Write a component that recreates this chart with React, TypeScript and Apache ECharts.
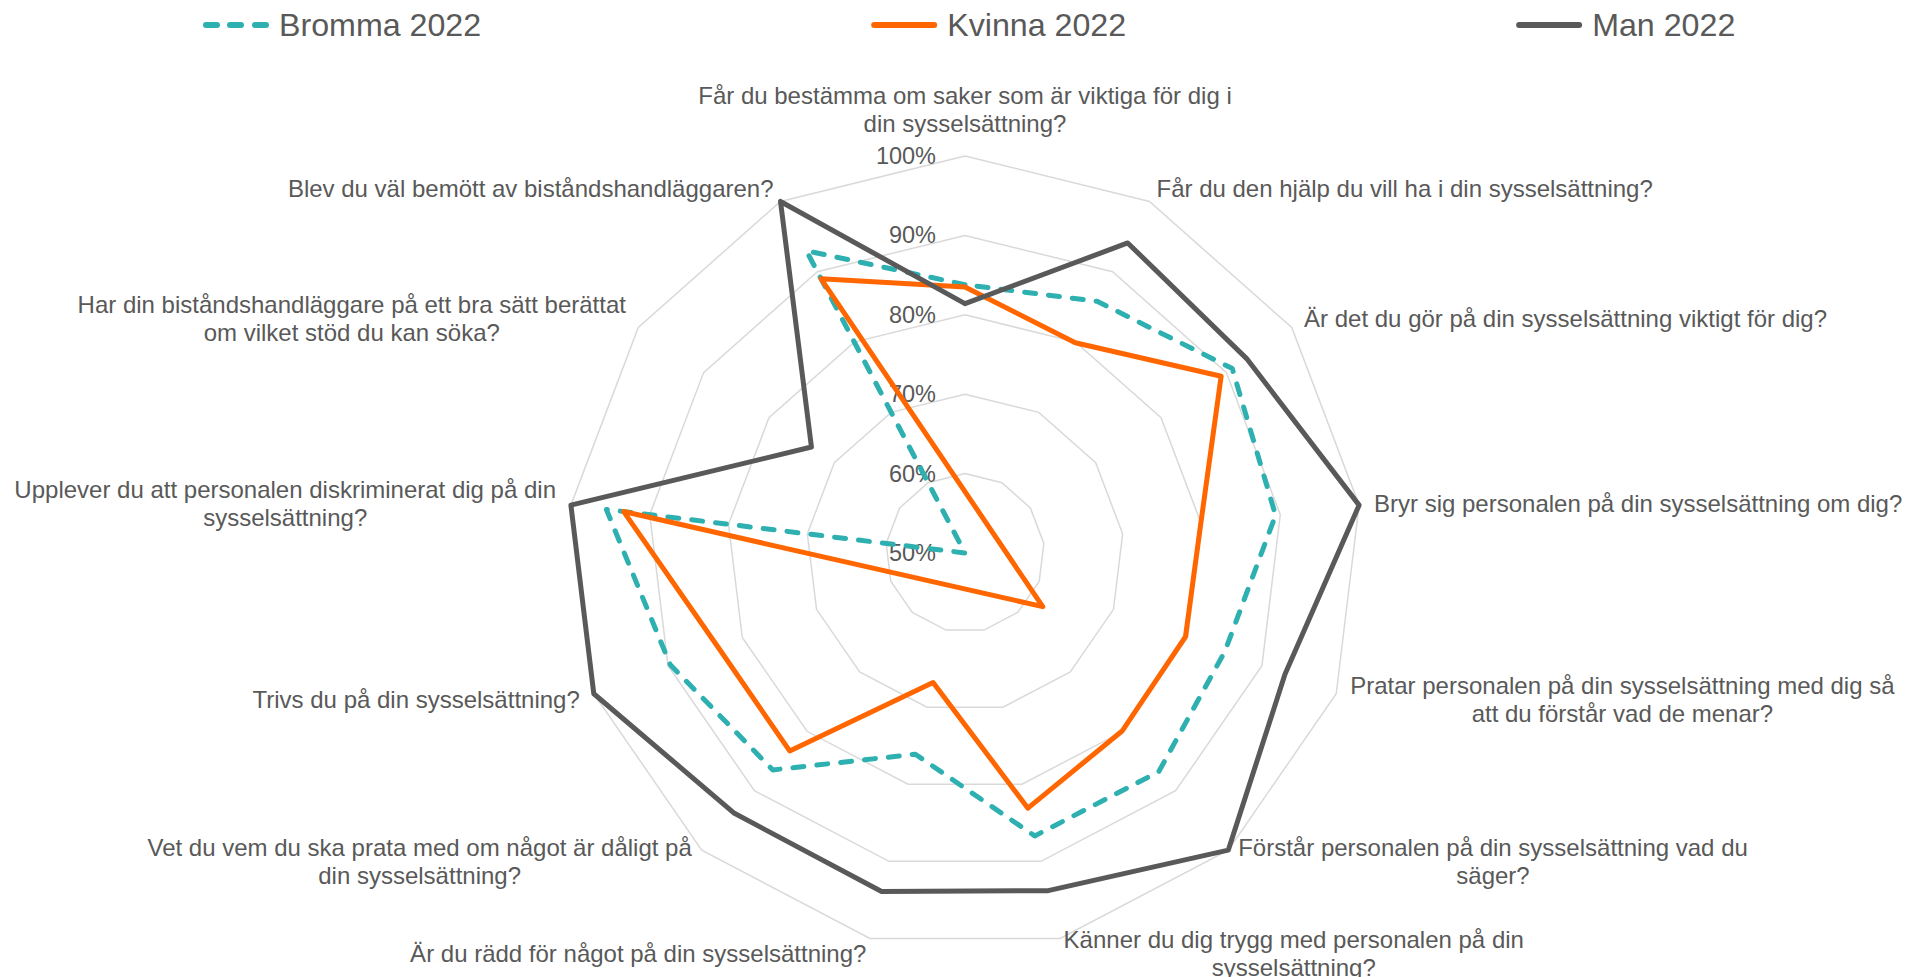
import React, { useEffect, useRef } from "react";
import * as echarts from "echarts";

// Questions in clockwise order starting at the top
const categories: string[] = [
  "Får du bestämma om saker som är viktiga för dig i\ndin sysselsättning?",
  "Får du den hjälp du vill ha i din sysselsättning?",
  "Är det du gör på din sysselsättning viktigt för dig?",
  "Bryr sig personalen på din sysselsättning om dig?",
  "Pratar personalen på din sysselsättning med dig så\natt du förstår vad de menar?",
  "Förstår personalen på din sysselsättning vad du\nsäger?",
  "Känner du dig trygg med personalen på din\nsysselsättning?",
  "Är du rädd för något på din sysselsättning?",
  "Vet du vem du ska prata med om något är dåligt på\ndin sysselsättning?",
  "Trivs du på din sysselsättning?",
  "Upplever du att personalen diskriminerat dig på din\nsysselsättning?",
  "Har din biståndshandläggare på ett bra sätt berättat\nom vilket stöd du kan söka?",
  "Blev du väl bemött av biståndshandläggaren?",
];

const seriesNames: string[] = ["Bromma 2022", "Kvinna 2022", "Man 2022"];

const bromma: number[] = [83.8, 85.8, 90.9, 89.4, 85.0, 86.8, 86.7, 76.1, 86.5, 89.7, 95.5, 50.0, 93.0];
const kvinna: number[] = [83.5, 79.9, 89.2, 79.9, 79.7, 79.9, 83.1, 66.8, 83.3, 83.3, 93.3, 38.1, 89.0];
const man: number[] = [81.4, 94.1, 93.1, 100, 93.1, 100, 93.8, 93.9, 93.8, 100, 100, 73.5, 100];

const axisMin = 50;
const axisMax = 100;
const axisSplits = 5;

const TEXT = "#595959";
const FONT = "'Liberation Sans', Arial, sans-serif";

export default function App() {
  const ref = useRef<HTMLDivElement>(null);

  useEffect(() => {
    if (!ref.current) return;
    const chart = echarts.init(ref.current, undefined, { renderer: "svg" });

    // ECharts radar runs counter-clockwise: reorder so the picture reads clockwise
    const order = [0, ...Array.from({ length: categories.length - 1 }, (_, i) => categories.length - 1 - i)];
    const reorder = (arr: number[]) => order.map((i) => arr[i]);

    const indicator = order.map((i, k) => ({
      name: categories[i],
      min: axisMin,
      max: axisMax,
      ...(k === 0 ? { axisLabel: { show: true }, nameGap: 19 } : {}),
    }));

    const lineIcon = "path://M3,0h60a3,3 0 0 1 0,6h-60a3,3 0 0 1 0,-6z";
    const dashIcon =
      "path://M3,0h11a3,3 0 0 1 0,6h-11a3,3 0 0 1 0,-6z M27,0h11a3,3 0 0 1 0,6h-11a3,3 0 0 1 0,-6z M52,0h11a3,3 0 0 1 0,6h-11a3,3 0 0 1 0,-6z";

    const colors = ["#2EB0B0", "#FF6600", "#595959"];
    const values = [bromma, kvinna, man];

    chart.setOption({
      animation: false,
      backgroundColor: "#ffffff",
      legend: {
        left: 203,
        top: 9,
        padding: 0,
        itemGap: 390,
        itemWidth: 66,
        itemHeight: 6,
        textStyle: { color: TEXT, fontSize: 32.2, fontFamily: FONT, padding: [0, 0, 0, 5] },
        data: [
          { name: seriesNames[0], icon: dashIcon, itemStyle: { color: colors[0] } },
          { name: seriesNames[1], icon: lineIcon, itemStyle: { color: colors[1] } },
          { name: seriesNames[2], icon: lineIcon, itemStyle: { color: colors[2] } },
        ],
        selectedMode: false,
      },
      radar: {
        center: [965, 553],
        radius: 397,
        startAngle: 90,
        splitNumber: axisSplits,
        shape: "polygon",
        nameGap: 15,
        axisName: {
          color: TEXT,
          fontSize: 24,
          fontFamily: FONT,
          formatter: (name: string) =>
            name
              .split("\n")
              .map((l) => `{c|${l}}`)
              .join("\n"),
          rich: {
            c: { align: "center", color: TEXT, fontSize: 24, fontFamily: FONT, lineHeight: 28 },
          },
        },
        axisLine: { show: false },
        axisTick: { show: false },
        splitArea: { show: false },
        splitLine: { lineStyle: { color: "#D9D9D9", width: 1.5 } },
        axisLabel: {
          show: false,
          color: TEXT,
          fontSize: 23.5,
          fontFamily: FONT,
          margin: 29,
          formatter: (v: number) => `${v}%`,
        },
        indicator,
      },
      series: [
        {
          type: "radar",
          symbol: "none",
          data: seriesNames.map((n, si) => ({
            name: n,
            value: reorder(values[si]),
            lineStyle: {
              color: colors[si],
              width: 5,
              type: si === 0 ? [11, 13] : "solid",
              cap: "round",
              join: "round",
            },
            itemStyle: { color: colors[si] },
          })),
        },
      ],
    });

    return () => chart.dispose();
  }, []);

  return (
    <div
      ref={ref}
      style={{ position: "fixed", left: 0, top: 0, width: 1906, height: 977 }}
    />
  );
}
